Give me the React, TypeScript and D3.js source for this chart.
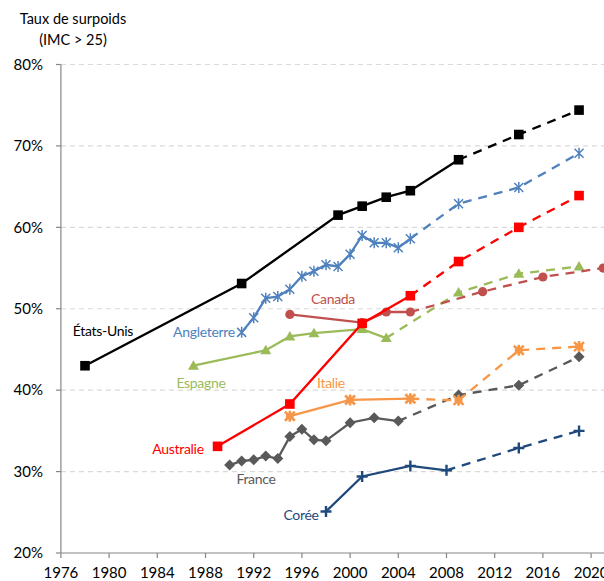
import React from "react";
import * as d3 from "d3";

const xTicks = [1976, 1980, 1984, 1988, 1992, 1996, 2000, 2004, 2008, 2012, 2016, 2020];
const yTicks = [20, 30, 40, 50, 60, 70, 80];

const usObsYears = [1978, 1991, 1999, 2001, 2003, 2005, 2009];
const usObsValues = [43.0, 53.1, 61.5, 62.6, 63.7, 64.5, 68.3];
const usProjYears = [2014, 2019];
const usProjValues = [71.4, 74.4];

const engObsYears = [1991, 1992, 1993, 1994, 1995, 1996, 1997, 1998, 1999, 2000, 2001, 2002, 2003, 2004, 2005];
const engObsValues = [47.1, 48.9, 51.3, 51.5, 52.4, 54.0, 54.6, 55.4, 55.2, 56.7, 59.0, 58.1, 58.1, 57.5, 58.6];
const engProjYears = [2009, 2014, 2019];
const engProjValues = [62.9, 64.9, 69.1];

const ausObsYears = [1989, 1995, 2001, 2005];
const ausObsValues = [33.1, 38.3, 48.2, 51.6];
const ausProjYears = [2009, 2014, 2019];
const ausProjValues = [55.8, 60.0, 63.9];

const canObsYears = [1995, 2001, 2003, 2005];
const canObsValues = [49.3, 48.3, 49.6, 49.6];
const canProjYears = [2011, 2016, 2021];
const canProjValues = [52.1, 53.9, 55.0];

const espObsYears = [1987, 1993, 1995, 1997, 2001, 2003];
const espObsValues = [43.0, 44.9, 46.6, 47.0, 47.5, 46.4];
const espProjYears = [2009, 2014, 2019];
const espProjValues = [52.0, 54.3, 55.2];

const itaObsYears = [1995, 2000, 2005];
const itaObsValues = [36.8, 38.8, 38.95];
const itaProjYears = [2009, 2014, 2019];
const itaProjValues = [38.75, 44.9, 45.35];

const fraObsYears = [1990, 1991, 1992, 1993, 1994, 1995, 1996, 1997, 1998, 2000, 2002, 2004];
const fraObsValues = [30.8, 31.3, 31.45, 31.9, 31.6, 34.3, 35.2, 33.9, 33.8, 36.0, 36.6, 36.2];
const fraProjYears = [2009, 2014, 2019];
const fraProjValues = [39.4, 40.6, 44.1];

const korObsYears = [1998, 2001, 2005, 2008];
const korObsValues = [25.1, 29.4, 30.7, 30.15];
const korProjYears = [2014, 2019];
const korProjValues = [32.9, 35.0];

type Marker = "square" | "asterisk" | "circle" | "triangle" | "star" | "diamond" | "plus";

const seriesList = [
  { name: "Espagne", color: "#9BBB59", marker: "triangle" as Marker, oy: espObsYears, ov: espObsValues, py: espProjYears, pv: espProjValues, lx: 201, ly: 383 },
  { name: "Canada", color: "#C0504D", marker: "circle" as Marker, oy: canObsYears, ov: canObsValues, py: canProjYears, pv: canProjValues, lx: 333, ly: 299 },
  { name: "Corée", color: "#1F497D", marker: "plus" as Marker, oy: korObsYears, ov: korObsValues, py: korProjYears, pv: korProjValues, lx: 301, ly: 515 },
  { name: "France", color: "#595959", marker: "diamond" as Marker, oy: fraObsYears, ov: fraObsValues, py: fraProjYears, pv: fraProjValues, lx: 256, ly: 479 },
  { name: "Italie", color: "#F79646", marker: "star" as Marker, oy: itaObsYears, ov: itaObsValues, py: itaProjYears, pv: itaProjValues, lx: 331, ly: 383 },
  { name: "Angleterre", color: "#4F81BD", marker: "asterisk" as Marker, oy: engObsYears, ov: engObsValues, py: engProjYears, pv: engProjValues, lx: 204, ly: 332 },
  { name: "Australie", color: "#FF0000", marker: "square" as Marker, oy: ausObsYears, ov: ausObsValues, py: ausProjYears, pv: ausProjValues, lx: 178, ly: 449 },
  { name: "États-Unis", color: "#000000", marker: "square" as Marker, oy: usObsYears, ov: usObsValues, py: usProjYears, pv: usProjValues, lx: 103, ly: 331, labelColor: "#000000" },
];

const W = 604;
const H = 581;
const x = d3.scaleLinear().domain([1976, 2020]).range([60.9, 591.1]);
const y = d3.scaleLinear().domain([20, 80]).range([553, 64.5]);

const line = d3
  .line<[number, number]>()
  .x((d) => x(d[0]))
  .y((d) => y(d[1]));

function MarkerShape({ type, cx, cy, color }: { type: Marker; cx: number; cy: number; color: string }) {
  const s = 4.8;
  switch (type) {
    case "square":
      return <rect x={cx - s} y={cy - s} width={2 * s} height={2 * s} fill={color} />;
    case "circle":
      return <circle cx={cx} cy={cy} r={4.6} fill={color} />;
    case "triangle":
      return <path d={`M${cx},${cy - 5.5}L${cx + 5.5},${cy + 4}L${cx - 5.5},${cy + 4}Z`} fill={color} />;
    case "diamond":
      return <path d={`M${cx},${cy - 5.5}L${cx + 5.5},${cy}L${cx},${cy + 5.5}L${cx - 5.5},${cy}Z`} fill={color} />;
    case "plus":
      return (
        <path d={`M${cx - 5.5},${cy}H${cx + 5.5}M${cx},${cy - 5.5}V${cy + 5.5}`} stroke={color} strokeWidth={2.4} fill="none" />
      );
    case "asterisk":
      return (
        <path
          d={`M${cx - 4.5},${cy - 4.5}L${cx + 4.5},${cy + 4.5}M${cx - 4.5},${cy + 4.5}L${cx + 4.5},${cy - 4.5}M${cx},${cy - 5.5}V${cy + 5.5}`}
          stroke={color}
          strokeWidth={1.5}
          fill="none"
        />
      );
    case "star":
      return (
        <path
          d={`M${cx - 5},${cy - 4.5}L${cx + 5},${cy + 4.5}M${cx - 5},${cy + 4.5}L${cx + 5},${cy - 4.5}M${cx},${cy - 5.5}V${cy + 5.5}M${cx - 4},${cy}H${cx + 4}`}
          stroke={color}
          strokeWidth={2.6}
          fill="none"
        />
      );
  }
  return null;
}

export default function App() {
  const font = "Lato, 'Open Sans', sans-serif";
  return (
    <svg width={W} height={H} style={{ position: "absolute", left: 0, top: 0, background: "#fff" }} fontFamily={font}>
      {/* gridlines */}
      {yTicks.filter((t) => t > 20).map((t) => (
        <line key={`g${t}`} x1={x(1976)} x2={W} y1={y(t)} y2={y(t)} stroke="#D9D9D9" strokeWidth={1.2} strokeDasharray="5,4" />
      ))}
      {/* axes */}
      <line x1={x(1976)} x2={x(1976)} y1={y(80)} y2={y(20)} stroke="#868686" strokeWidth={1.2} />
      <line x1={x(1976)} x2={W} y1={y(20)} y2={y(20)} stroke="#868686" strokeWidth={1.2} />
      {yTicks.map((t) => (
        <g key={`y${t}`}>
          <line x1={x(1976) - 5} x2={x(1976)} y1={y(t)} y2={y(t)} stroke="#868686" strokeWidth={1.2} />
          <text x={43} y={y(t)} dy="0.35em" textAnchor="end" fontSize={15} fill="#000">
            {`${t}%`}
          </text>
        </g>
      ))}
      {xTicks.map((t) => (
        <g key={`x${t}`}>
          <line x1={x(t)} x2={x(t)} y1={y(20)} y2={y(20) + 5} stroke="#868686" strokeWidth={1.2} />
          <text x={x(t)} y={578} textAnchor="middle" fontSize={15} fill="#000">
            {t}
          </text>
        </g>
      ))}
      <text x={73} y={24} textAnchor="middle" fontSize={14.5} fill="#000">
        Taux de surpoids
      </text>
      <text x={73} y={45} textAnchor="middle" fontSize={14.5} fill="#000">
        (IMC &gt; 25)
      </text>

      {seriesList.map((s) => {
        const obs: [number, number][] = s.oy.map((yr, i) => [yr, s.ov[i]]);
        const proj: [number, number][] = [obs[obs.length - 1], ...s.py.map((yr, i) => [yr, s.pv[i]] as [number, number])];
        return (
          <g key={s.name}>
            <path d={line(obs) || ""} fill="none" stroke={s.color} strokeWidth={2.3} />
            <path d={line(proj) || ""} fill="none" stroke={s.color} strokeWidth={2.3} strokeDasharray="9,7" />
            {[...obs, ...proj.slice(1)].map((p, i) => (
              <MarkerShape key={i} type={s.marker} cx={x(p[0])} cy={y(p[1])} color={s.color} />
            ))}
          </g>
        );
      })}
      {seriesList.map((s) => (
        <text key={`l${s.name}`} x={s.lx} y={s.ly} dy="0.35em" textAnchor="middle" fontSize={14} fill={s.color} letterSpacing={-0.3}>
          {s.name}
        </text>
      ))}
    </svg>
  );
}
